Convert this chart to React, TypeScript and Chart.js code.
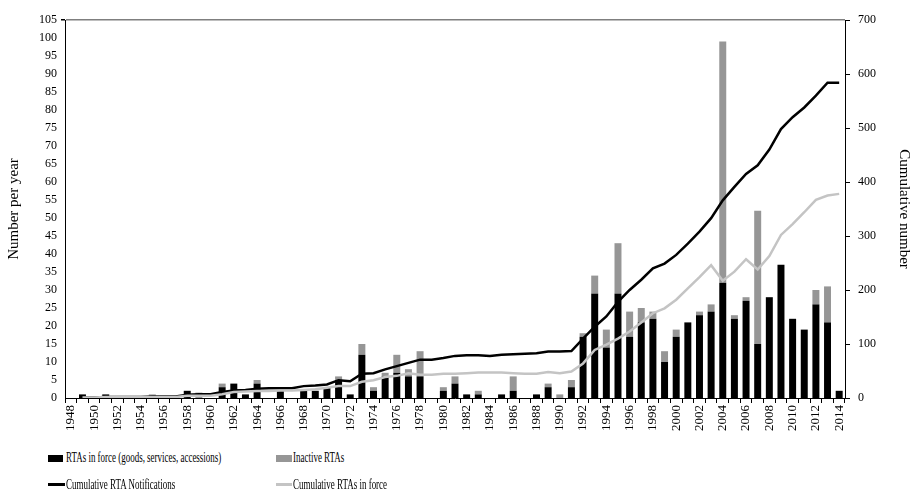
import React, { useEffect, useRef } from "react";
import { Chart, registerables } from "chart.js";

Chart.register(...registerables);

const years: string[] = [];
for (let y = 1948; y <= 2014; y++) years.push(String(y));

const inForce = [
  0, 1, 0, 1, 0, 0, 0, 0, 0, 0, // 1948-1957
  2, 0, 0, 3, 4, 1, 4, 0, 2, 0, // 1958-1967
  2, 2, 3, 5, 1, 12, 2, 6, 7, 6, // 1968-1977
  6, 0, 2, 4, 1, 1, 0, 1, 2, 0, // 1978-1987
  1, 3, 0, 3, 17, 29, 14, 29, 17, 21, // 1988-1997
  22, 10, 17, 21, 23, 24, 32, 22, 27, 15, // 1998-2007
  28, 37, 22, 19, 26, 21, 2, // 2008-2014
];

const inactive = [
  0, 0, 0, 0, 0, 0, 0, 1, 0, 0, // 1948-1957
  0, 1.5, 0, 1, 0, 0, 1, 0, 0, 0, // 1958-1967
  0, 0, 0, 1, 0, 3, 1, 1, 5, 2, // 1968-1977
  7, 0, 1, 2, 0, 1, 0, 0, 4, 0, // 1978-1987
  0, 1, 1, 2, 1, 5, 5, 14, 7, 4, // 1988-1997
  2, 3, 2, 0, 1, 2, 67, 1, 1, 37, // 1998-2007
  0, 0, 0, 0, 4, 10, 0, // 2008-2014
];

const cumNotifications = [
  null, 1, 1, 2, 2, 2, 2, 3, 3, 3, // 1948-1957
  6, 7, 7, 11, 14, 15, 17, 18, 18, 18, // 1958-1967
  22, 23, 25, 33, 31, 45, 46, 53, 59, 65, // 1968-1977
  71, 71, 74, 78, 79, 79, 78, 80, 81, 82, // 1978-1987
  83, 86, 86, 87, 110, 132, 151, 178, 200, 219, // 1988-1997
  240, 249, 265, 286, 308, 333, 366, 391, 415, 431, // 1998-2007
  460, 498, 520, 538, 560, 584, 584, // 2008-2014
];

const cumInForce = [
  null, 1, 1, 2, 2, 2, 2, 2, 2, 2, // 1948-1957
  4, 4, 4, 7, 11, 12, 13, 13, 14, 14, // 1958-1967
  15, 16, 19, 22, 22, 30, 33, 39, 41, 46, // 1968-1977
  43, 43, 45, 45, 46, 47, 47, 47, 46, 45, // 1978-1987
  45, 48, 46, 49, 64, 89, 99, 110, 123, 140, // 1988-1997
  157, 166, 182, 203, 224, 246, 217, 234, 257, 238, // 1998-2007
  263, 302, 322, 344, 367, 375, 378, // 2008-2014
];

const leftTicksMax = 105;
const rightTicksMax = 700;

const FONT = "'Liberation Serif', 'Times New Roman', serif";
const BLACK = "#000000";
const DARKGRAY = "#969696";
const LIGHTGRAY = "#c4c4c4";

export default function App() {
  const canvasRef = useRef<HTMLCanvasElement | null>(null);

  useEffect(() => {
    if (!canvasRef.current) return;
    const chart = new Chart(canvasRef.current, {
      type: "bar",
      data: {
        labels: years,
        datasets: [
          {
            type: "line",
            label: "Cumulative RTAs in force",
            data: cumInForce,
            yAxisID: "y1",
            borderColor: LIGHTGRAY,
            backgroundColor: LIGHTGRAY,
            borderWidth: 2.5,
            pointRadius: 0,
            tension: 0,
            order: 0,
          } as any,
          {
            type: "line",
            label: "Cumulative RTA Notifications",
            data: cumNotifications,
            yAxisID: "y1",
            borderColor: BLACK,
            backgroundColor: BLACK,
            borderWidth: 2.5,
            pointRadius: 0,
            tension: 0,
            order: 1,
          } as any,
          {
            type: "bar",
            label: "RTAs in force (goods, services, accessions)",
            data: inForce,
            yAxisID: "y",
            backgroundColor: BLACK,
            barPercentage: 0.6,
            categoryPercentage: 1,
            stack: "s",
            order: 2,
          },
          {
            type: "bar",
            label: "Inactive RTAs",
            data: inactive,
            yAxisID: "y",
            backgroundColor: DARKGRAY,
            barPercentage: 0.6,
            categoryPercentage: 1,
            stack: "s",
            order: 3,
          },
        ],
      },
      options: {
        animation: false,
        responsive: false,
        maintainAspectRatio: false,
        layout: { padding: { top: 20, left: 0, right: 0, bottom: 0 } },
        plugins: {
          legend: { display: false },
          tooltip: { enabled: false },
        },
        scales: {
          x: {
            stacked: true,
            offset: true,
            grid: {
              offset: true,
              color: "transparent",
              tickColor: BLACK,
              tickLength: 5,
              drawOnChartArea: false,
            },
            border: { color: BLACK, width: 1 },
            ticks: {
              autoSkip: false,
              maxRotation: 90,
              minRotation: 90,
              padding: 2,
              color: BLACK,
              font: { family: FONT, size: 13 },
              callback: function (this: any, _v: any, i: number) {
                return i % 2 === 0 ? years[i] : "";
              },
            },
            afterFit: (s: any) => {
              s.height = 47;
            },
          },
          y: {
            stacked: true,
            position: "left",
            min: 0,
            max: leftTicksMax,
            ticks: {
              stepSize: 5,
              color: BLACK,
              padding: 4,
              font: { family: FONT, size: 12 },
            },
            grid: {
              color: (c: any) => (c.tick && c.tick.value === leftTicksMax ? "#7f7f7f" : "transparent"),
              lineWidth: (c: any) => (c.tick && c.tick.value === leftTicksMax ? 1.5 : 0),
              tickColor: BLACK,
              tickLength: 4,
            },
            border: { color: BLACK, width: 1 },
            title: {
              display: true,
              text: "Number per year",
              color: BLACK,
              font: { family: FONT, size: 15 },
              padding: { top: 5, bottom: 0 },
            },
            afterFit: (s: any) => {
              s.width = 65;
            },
          },
          y1: {
            stacked: false,
            position: "right",
            min: 0,
            max: rightTicksMax,
            ticks: {
              stepSize: 100,
              color: BLACK,
              padding: 8,
              font: { family: FONT, size: 12 },
            },
            grid: {
              drawOnChartArea: false,
              tickColor: BLACK,
              tickLength: 5,
            },
            border: { color: BLACK, width: 1 },
            title: {
              display: true,
              text: "Cumulative number",
              color: BLACK,
              font: { family: FONT, size: 15 },
              padding: { top: 0, bottom: 4 },
            },
            afterFit: (s: any) => {
              s.width = 68;
            },
          },
        },
      },
    });
    return () => chart.destroy();
  }, []);

  const legendText: React.CSSProperties = {
    position: "absolute",
    fontFamily: FONT,
    fontSize: 14,
    color: "#000",
    whiteSpace: "nowrap",
    lineHeight: "16px",
    transform: "scaleX(0.64)",
    transformOrigin: "0 50%",
  };

  return (
    <div style={{ position: "fixed", left: 0, top: 0, width: 913, height: 491, background: "#fff" }}>
      <canvas ref={canvasRef} width={913} height={445} style={{ display: "block", width: 913, height: 445 }} />
      <div style={{ position: "absolute", left: 48, top: 455, width: 15, height: 7, background: BLACK }} />
      <div style={{ ...legendText, left: 66, top: 450 }}>RTAs in force (goods, services, accessions)</div>
      <div style={{ position: "absolute", left: 276, top: 455, width: 16, height: 7, background: DARKGRAY }} />
      <div style={{ ...legendText, left: 293, top: 450 }}>Inactive RTAs</div>
      <div style={{ position: "absolute", left: 48, top: 483, width: 17, height: 2.5, background: BLACK }} />
      <div style={{ ...legendText, left: 66, top: 477 }}>Cumulative RTA Notifications</div>
      <div style={{ position: "absolute", left: 276, top: 483, width: 16, height: 2.5, background: LIGHTGRAY }} />
      <div style={{ ...legendText, left: 293, top: 477 }}>Cumulative RTAs in force</div>
    </div>
  );
}
